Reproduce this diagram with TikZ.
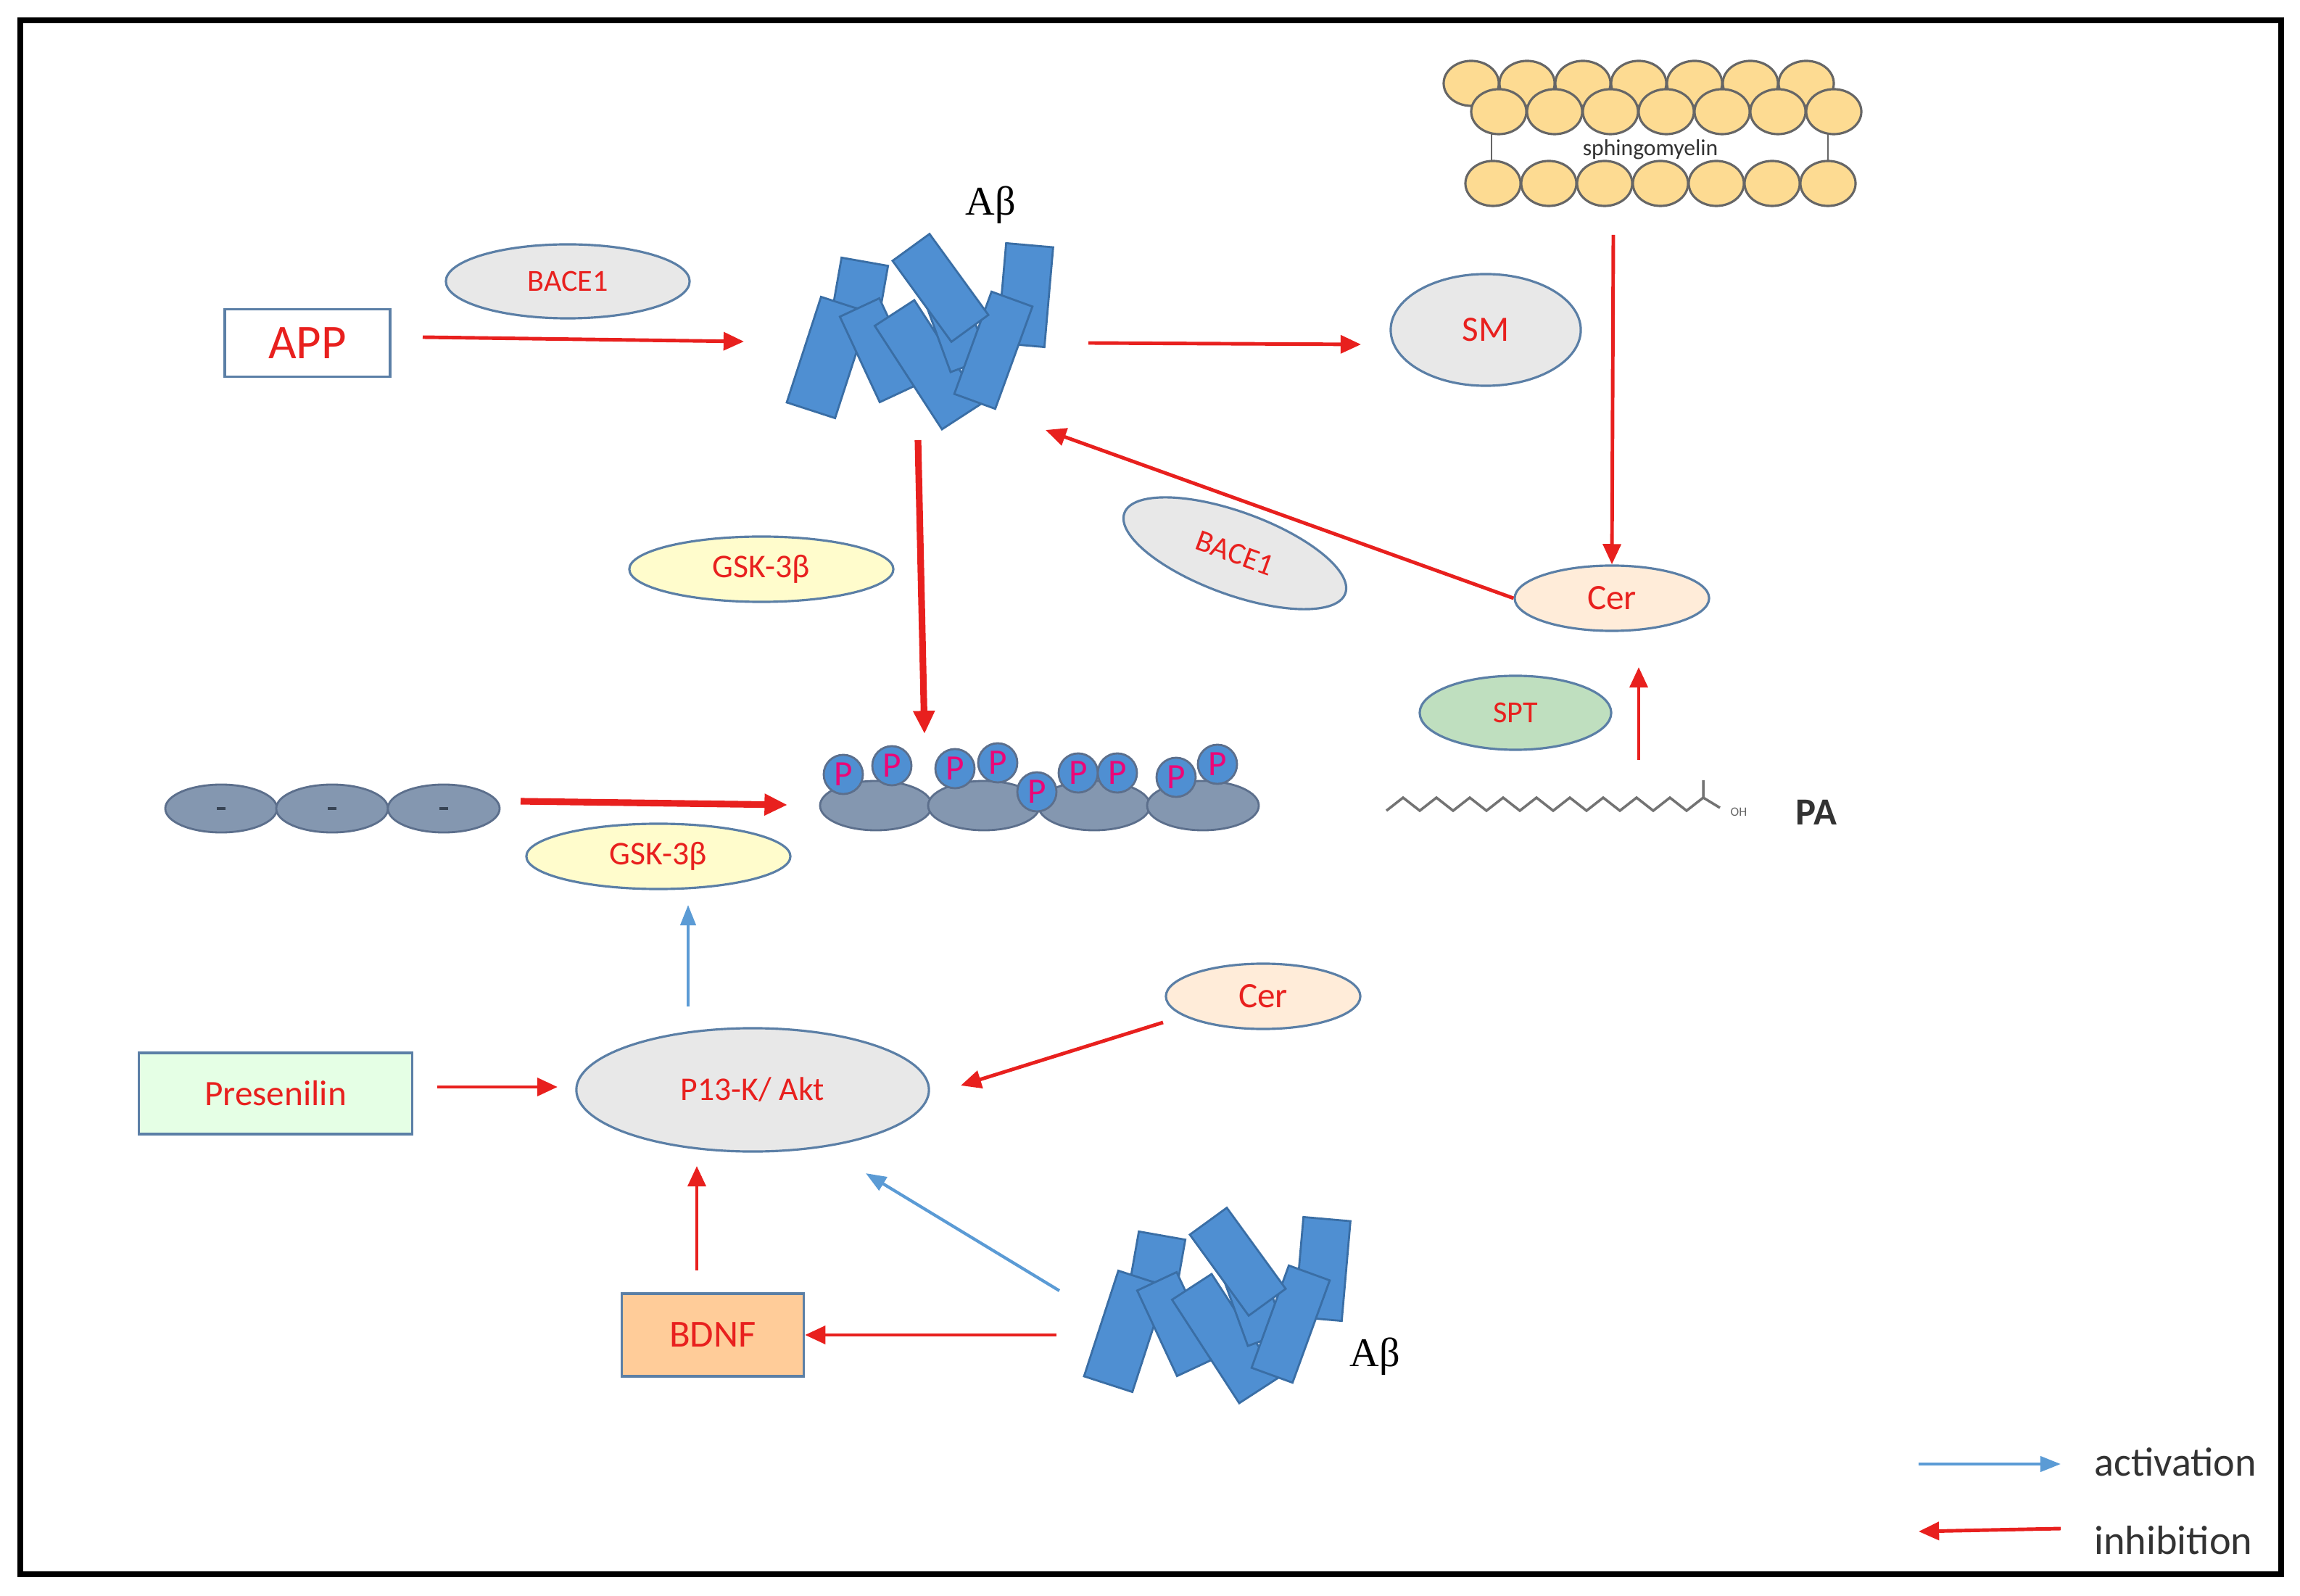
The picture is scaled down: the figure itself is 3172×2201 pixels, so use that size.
\documentclass[tikz,border=0pt]{standalone}
\usepackage{fontspec}
\setmainfont{Carlito}
\newfontfamily\serifAB{Liberation Serif}
\usetikzlibrary{arrows.meta,shapes.geometric}
\definecolor{rd}{HTML}{E8201E}
\definecolor{ab}{HTML}{4F8FD2}
\definecolor{abl}{HTML}{3A6EA5}
\definecolor{gb}{HTML}{8497B0}
\definecolor{gbl}{HTML}{5C6F8C}
\definecolor{ol}{HTML}{5B7FA6}
\definecolor{lb}{HTML}{5B9BD5}
\tikzset{
  inh/.style={draw=rd,line width=1.4pt,-{Triangle[length=8pt,width=7pt]}},
  inhb/.style={draw=rd,line width=2.6pt,-{Triangle[length=9pt,width=8pt]}},
  act/.style={draw=lb,line width=1.2pt,-{Triangle[length=8pt,width=6pt]}},
  ell/.style={ellipse,draw=ol,line width=0.9pt,inner sep=0pt,text=rd},
  box/.style={rectangle,draw=ol,line width=0.9pt,inner sep=0pt,text=rd},
  blk/.style={rectangle,fill=ab,draw=abl,line width=0.8pt,inner sep=0pt},
  lip/.style={ellipse,fill=yellow!35!orange!40!white,draw=black!60,line width=0.9pt,minimum width=0.76cm,minimum height=0.62cm,inner sep=0pt},
  bead/.style={ellipse,fill=gb,draw=gbl,line width=0.8pt,inner sep=0pt},
  pc/.style={circle,fill=ab,draw=gbl,line width=0.8pt,minimum size=0.54cm,inner sep=0pt,text=magenta!80!red,font=\fontsize{14}{14}\selectfont},
  pics/abeta/.style={code={
    \node[blk,minimum width=0.65cm,minimum height=0.65cm,rotate=-10] at (-81,-59) {};
    \node[blk,minimum width=0.7cm,minimum height=1.53cm,rotate=-18] at (-126,41) {};
    \node[blk,minimum width=0.6cm,minimum height=1.3cm,rotate=25] at (-55,31) {};
    \node[blk,minimum width=0.65cm,minimum height=1.7cm,rotate=33] at (12,51) {};
    \node[blk,minimum width=0.55cm,minimum height=1.1cm,rotate=20] at (50,0) {};
    \node[blk,minimum width=0.65cm,minimum height=1.38cm,rotate=-5] at (146,-45) {};
    \node[blk,minimum width=0.6cm,minimum height=1.5cm,rotate=-20] at (102,31) {};
    \node[blk,minimum width=0.63cm,minimum height=1.38cm,rotate=36] at (29,-55) {};
  }}
}
\begin{document}
\begin{tikzpicture}[x=0.01cm,y=-0.01cm]
\useasboundingbox (0,0) rectangle (3172,2201);
\draw[line width=2.5pt] (28,28) rectangle (3146,2171);

% top row
\node[box,minimum width=2.28cm,minimum height=0.93cm,font=\fontsize{19}{19}\selectfont] (app) at (424,473) {APP};
\node[ell,fill=black!9,minimum width=3.36cm,minimum height=1.02cm,font=\fontsize{12}{12}\selectfont] (bace1) at (783,388) {BACE1};
\pic at (1268,452) {abeta};
\node[font=\serifAB\fontsize{16}{16}\selectfont] (ab1) at (1366,283) {Aβ};
\node[ell,fill=black!9,minimum width=2.62cm,minimum height=1.54cm,font=\fontsize{14}{14}\selectfont] (sm) at (2049,455) {SM};

% sphingomyelin
\foreach \i in {0,...,6}{
  \node[lip] at (2029+77*\i,115) {};}
\foreach \i in {0,...,6}{
  \node[lip] at (2067+77*\i,154) {};}
\foreach \i in {0,...,6}{
  \node[lip] at (2059+77*\i,253) {};}
\draw[black!60,line width=0.8pt] (2057,185) -- (2057,222) (2521,185) -- (2521,222);
\node[font=\fontsize{9}{9}\selectfont,text=black!80] (sphm) at (2276,206) {sphingomyelin};

\node[ell,fill=orange!15,minimum width=2.68cm,minimum height=0.9cm,font=\fontsize{14}{14}\selectfont] (cer1) at (2223,825) {Cer};
\node[ell,fill=black!9,minimum width=3.24cm,minimum height=1.14cm,rotate=-20,font=\fontsize{12}{12}\selectfont] (bace2) at (1703,763) {BACE1};
\node[ell,fill=green!50!black!25,minimum width=2.64cm,minimum height=1.02cm,font=\fontsize{12}{12}\selectfont] (spt) at (2090,983) {SPT};
\node[ell,fill=yellow!20,minimum width=3.64cm,minimum height=0.9cm,font=\fontsize{13}{13}\selectfont] (gsk1) at (1050,785) {GSK-3β};

% PA chain
\draw[black!55,line width=1pt] (1912,1118) \foreach \k in {1,...,9}{ -- ++(23,-18) -- ++(23,18)} -- (2349,1100) -- (2349,1076) (2349,1100) -- (2372,1114);
\node[font=\fontsize{5}{5}\selectfont,text=black!60] (oh) at (2398,1120) {OH};
\node[font=\bfseries\fontsize{15}{15}\selectfont,text=black!80] (pa) at (2505,1120) {PA};

% left chain
\foreach \x/\n in {305/c1,458/c2,612/c3}{
  \node[bead,minimum width=1.54cm,minimum height=0.66cm] (\n) at (\x,1115) {};
  \draw[gbl!60!black,line width=1pt] (\x-6,1115) -- (\x+6,1115);}

% P chain
\foreach \x/\n in {1208/b1,1357/b2,1509/b3,1659/b4}{
  \node[bead,minimum width=1.54cm,minimum height=0.68cm] (\n) at (\x,1111) {};}
\foreach \x/\y in {1163/1068,1230/1056,1317/1060,1376/1052,1430/1092,1487/1066,1541/1066,1622/1072,1679/1054}{
  \node[pc] at (\x,\y) {P};}

\node[ell,fill=yellow!20,minimum width=3.64cm,minimum height=0.9cm,font=\fontsize{13}{13}\selectfont] (gsk2) at (908,1181) {GSK-3β};
\node[ell,fill=black!9,minimum width=4.86cm,minimum height=1.7cm,font=\fontsize{13}{13}\selectfont] (pk) at (1038,1503) {P13-K/ Akt};
\node[box,fill=green!10,minimum width=3.76cm,minimum height=1.12cm,font=\fontsize{14}{14}\selectfont] (pres) at (380,1508) {Presenilin};
\node[ell,fill=orange!15,minimum width=2.68cm,minimum height=0.9cm,font=\fontsize{14}{14}\selectfont] (cer2) at (1742,1374) {Cer};
\node[box,fill=orange!40,minimum width=2.51cm,minimum height=1.14cm,font=\fontsize{15}{15}\selectfont] (bdnf) at (983,1841) {BDNF};
\pic at (1678,1795) {abeta};
\node[font=\serifAB\fontsize{16}{16}\selectfont] (ab2) at (1896,1871) {Aβ};

% connector endpoints
\coordinate (a1s) at (583,465); \coordinate (a1e) at (1026,471);
\coordinate (a2s) at (1501,473); \coordinate (a2e) at (1877,475);
\coordinate (a3s) at (2225,324);
\coordinate (a4e) at (1442,593);
\coordinate (a5s) at (2260,1048); \coordinate (a5e) at (2260,920);
\coordinate (a6s) at (1266,607); \coordinate (a6e) at (1275,1012);
\coordinate (a7s) at (718,1105); \coordinate (a7e) at (1086,1110);
\coordinate (a8s) at (949,1388); \coordinate (a8e) at (949,1248);
\coordinate (a9s) at (603,1499); \coordinate (a9e) at (769,1499);
\coordinate (a10s) at (1604,1410); \coordinate (a10e) at (1325,1497);
\coordinate (a11s) at (961,1752); \coordinate (a11e) at (961,1608);
\coordinate (a12s) at (1457,1841);
\coordinate (a13s) at (1461,1780); \coordinate (a13e) at (1194,1618);

\draw[inh] (a1s) -- (a1e);
\draw[inh] (a2s) -- (a2e);
\draw[inh] (a3s) -- (cer1.north);
\draw[inh] (cer1.west) -- (a4e);
\draw[inh] (a5s) -- (a5e);
\draw[inhb] (a6s) -- (a6e);
\draw[inhb] (a7s) -- (a7e);
\draw[act] (a8s) -- (a8e);
\draw[inh] (a9s) -- (a9e);
\draw[inh] (a10s) -- (a10e);
\draw[inh] (a11s) -- (a11e);
\draw[inh] (a12s) -- (bdnf.east);
\draw[act] (a13s) -- (a13e);

% legend
\coordinate (l1) at (2646,2019); \coordinate (l2) at (2842,2019);
\coordinate (l3) at (2842,2108); \coordinate (l4) at (2646,2112);
\draw[act] (l1) -- (l2);
\draw[inh] (l3) -- (l4);
\node[anchor=west,font=\fontsize{16}{16}\selectfont,text=black!80] (lact) at (2876,2016) {activation};
\node[anchor=west,font=\fontsize{16}{16}\selectfont,text=black!80] (linh) at (2876,2124) {inhibition};
\end{tikzpicture}
\end{document}
